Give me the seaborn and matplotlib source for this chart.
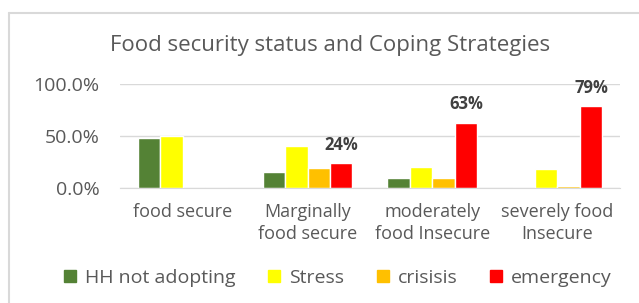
import numpy as np
import pandas as pd
import matplotlib
matplotlib.use("Agg")
import matplotlib.pyplot as plt
import matplotlib.lines as mlines
import seaborn as sns

categories = ["food secure", "Marginally\nfood secure", "moderately\nfood Insecure", "severely food\nInsecure"]
series = ["HH not adopting", "Stress", "crisisis", "emergency"]
hh_not_adopting = [0.485, 0.15, 0.09, 0.0]
stress = [0.50, 0.40, 0.20, 0.18]
crisis = [0.0, 0.19, 0.09, 0.02]
emergency = [0.0, 0.24, 0.63, 0.79]
red_labels = ["", "24%", "63%", "79%"]

colors = ["#548235", "#FFFF00", "#FFC000", "#FF0000"]
grey = "#595959"

rows = []
for s, vals in zip(series, [hh_not_adopting, stress, crisis, emergency]):
    for c, v in zip(categories, vals):
        rows.append({"cat": c, "series": s, "value": v})
df = pd.DataFrame(rows)

sns.set_style("white")
plt.rcParams["font.family"] = ["Open Sans", "DejaVu Sans"]

fig = plt.figure(figsize=(6.39, 3.03), dpi=100)
ax = fig.add_axes([0.188, 0.3805, 0.782, 0.3415])
sns.barplot(data=df, x="cat", y="value", hue="series", palette=colors,
            width=0.72, saturation=1, ax=ax, legend=False)

ax.set_ylim(0, 1.0)
ax.set_yticks([0, 0.5, 1.0])
ax.set_yticklabels(["0.0%", "50.0%", "100.0%"])
ax.yaxis.grid(True, color="#d9d9d9", lw=1)
ax.set_axisbelow(True)
for sp in ["top", "right", "left"]:
    ax.spines[sp].set_visible(False)
ax.spines["bottom"].set_color("#d9d9d9")
ax.tick_params(axis="y", length=0, labelsize=14, labelcolor=grey, pad=15)
ax.tick_params(axis="x", length=0, labelsize=13, labelcolor=grey, pad=11)
ax.set_xlabel("")
ax.set_ylabel("")
for lab in ax.get_xticklabels():
    lab.set_linespacing(1.3)

# labels on the emergency bars
red_bars = ax.containers[3]
for bar, txt in zip(red_bars, red_labels):
    if txt:
        ax.annotate(txt, (bar.get_x() + bar.get_width() / 2, bar.get_height()),
                    xytext=(0, 13), textcoords="offset points", ha="center", va="center",
                    fontsize=12, fontweight="bold", color="#404040", annotation_clip=False)

fig.text(330 / 639, 1 - 46 / 303, "Food security status and Coping Strategies", ha="center", va="center",
         fontsize=16, color=grey)

handles = [mlines.Line2D([], [], marker="s", ls="", color=c, markersize=8) for c in colors]
fig.legend(handles, series, loc="center", bbox_to_anchor=(337 / 639, 1 - 278 / 303), ncol=4, frameon=False,
           fontsize=14, labelcolor=grey, handletextpad=0.35, columnspacing=1.6, handlelength=0.8)

# outer chart border
fig.add_artist(mlines.Line2D([9 / 639, 1], [1 - 13 / 303, 1 - 13 / 303], color="#d9d9d9", lw=1.5))
fig.add_artist(mlines.Line2D([9 / 639, 9 / 639], [0, 1 - 13 / 303], color="#d9d9d9", lw=1.5))

fig.savefig("out.png", dpi=100)
